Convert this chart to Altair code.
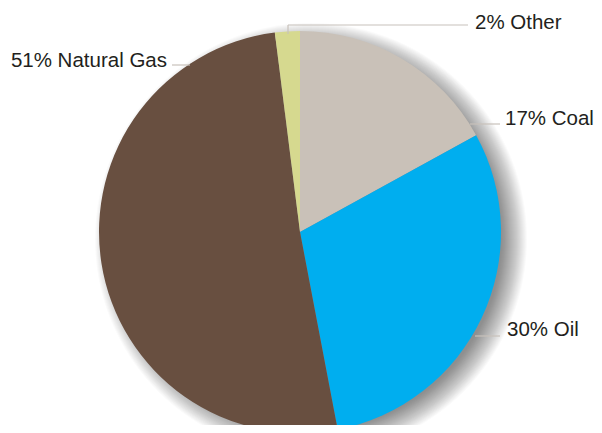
import altair as alt
import pandas as pd

categories = ["Coal", "Oil", "Natural Gas", "Other"]
shares = [17, 30, 51, 2]
colors = ["#c9c1b8", "#00aeef", "#684f40", "#d6d98f"]
labels = ["17% Coal", "30% Oil", "51% Natural Gas", "2% Other"]

W, H = 586, 417
CX, CY, R = 292, 224, 201

pie_df = pd.DataFrame({"cat": categories, "share": shares, "order": list(range(len(categories)))})

# label layout (pixel positions)
lab_df = pd.DataFrame({
    "label": labels,
    "x": [497, 499, 159, 467],
    "y": [111, 322, 53, 15],
    "align": ["left", "left", "right", "left"],
})
leader_df = pd.DataFrame({
    "x": [462, 467, 164, 280, 280],
    "x2": [492, 492, 182, 460, 280],
    "y": [116, 328, 57, 17, 17],
    "y2": [116, 328, 57, 17, 26],
})

# soft shadow (stacked translucent discs, full circle = total of shares)
disc = pd.DataFrame({"a": [sum(shares)]})
shadow_layers = []
for k in range(0, 26):
    shadow_layers.append(
        alt.Chart(disc).mark_arc(color="#000000", opacity=0.018, radius=R - 10 + k)
        .encode(theta=alt.Theta("a:Q"), x=alt.value(CX + 11), y=alt.value(CY + 7))
    )

pie = alt.Chart(pie_df).mark_arc(radius=R).encode(
    theta=alt.Theta("share:Q", stack=True),
    color=alt.Color("cat:N", scale=alt.Scale(domain=categories, range=colors), legend=None),
    order=alt.Order("order:Q"),
    x=alt.value(CX), y=alt.value(CY),
)

leaders = alt.Chart(leader_df).mark_rule(color="#c8c2bb", strokeWidth=1.2).encode(
    x=alt.X("x:Q", scale=None), x2="x2:Q",
    y=alt.Y("y:Q", scale=None), y2="y2:Q",
)

text_left = alt.Chart(lab_df[lab_df["align"] == "left"]).mark_text(
    align="left", baseline="middle", font="Liberation Sans", fontSize=20.5, color="#231f20"
).encode(x=alt.X("x:Q", scale=None), y=alt.Y("y:Q", scale=None), text="label:N")

text_right = alt.Chart(lab_df[lab_df["align"] == "right"]).mark_text(
    align="right", baseline="middle", font="Liberation Sans", fontSize=20.5, color="#231f20"
).encode(x=alt.X("x:Q", scale=None), y=alt.Y("y:Q", scale=None), text="label:N")

chart = alt.layer(*shadow_layers, pie, leaders, text_left, text_right).properties(
    width=W, height=H, autosize=alt.AutoSizeParams(type="none"), padding=0
).configure_view(stroke=None)

chart.save("out.html", embed_options={"renderer": "svg", "actions": False})
